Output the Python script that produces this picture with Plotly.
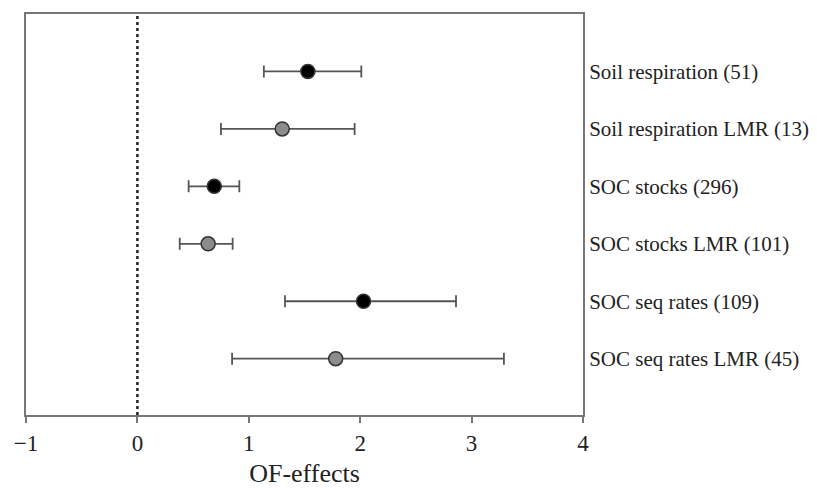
import plotly.graph_objects as go

categories = [
    "Soil respiration (51)",
    "Soil respiration LMR (13)",
    "SOC stocks (296)",
    "SOC stocks LMR (101)",
    "SOC seq rates (109)",
    "SOC seq rates LMR (45)",
]
effect = [1.53, 1.30, 0.69, 0.635, 2.03, 1.78]
ci_low = [1.135, 0.75, 0.46, 0.38, 1.325, 0.85]
ci_high = [2.01, 1.95, 0.915, 0.855, 2.86, 3.29]
is_lmr = [False, True, False, True, False, True]
x_ticks = [-1, 0, 1, 2, 3, 4]
x_tick_labels = ["\u22121", "0", "1", "2", "3", "4"]

FONT = "Liberation Serif, Times New Roman, serif"
ypos = list(range(len(categories), 0, -1))

fig = go.Figure()
for group, fill in [(False, "#000000"), (True, "#8c8c8c")]:
    idx = [i for i, g in enumerate(is_lmr) if g == group]
    fig.add_trace(go.Scatter(
        x=[effect[i] for i in idx],
        y=[ypos[i] for i in idx],
        mode="markers",
        marker=dict(size=14, color=fill, line=dict(color="#333333", width=1.5)),
        error_x=dict(
            type="data", symmetric=False,
            array=[ci_high[i] - effect[i] for i in idx],
            arrayminus=[effect[i] - ci_low[i] for i in idx],
            color="#555555", thickness=1.8, width=6,
        ),
        showlegend=False,
        hoverinfo="skip",
    ))

fig.add_shape(type="line", x0=0, x1=0, y0=0, y1=1, xref="x", yref="paper",
              line=dict(color="#222222", width=2.5, dash="dot"), layer="below")

# page body adds an 8px offset, so the figure is sized to the visible area
fig.update_layout(
    width=809, height=480,
    margin=dict(l=18, r=234, t=6, b=73),
    paper_bgcolor="white", plot_bgcolor="white",
    font=dict(family=FONT, size=22, color="#222222"),
    xaxis=dict(
        range=[-1, 4], tickvals=x_ticks, ticktext=x_tick_labels,
        showgrid=False, zeroline=False, automargin=False,
        showline=True, linecolor="#777777", linewidth=2, mirror=True,
        ticks="outside", ticklen=6, tickcolor="#777777", tickwidth=2,
        tickfont=dict(size=23),
        title=dict(text="OF-effects", font=dict(size=26), standoff=22),
    ),
    yaxis=dict(
        range=[0.02, 7.0], side="right",
        tickvals=ypos, ticktext=categories,
        showgrid=False, zeroline=False, automargin=False,
        showline=True, linecolor="#777777", linewidth=2, mirror=True,
        ticks="", tickfont=dict(size=21), ticklabelstandoff=0,
    ),
)

fig.write_html("out.html")
